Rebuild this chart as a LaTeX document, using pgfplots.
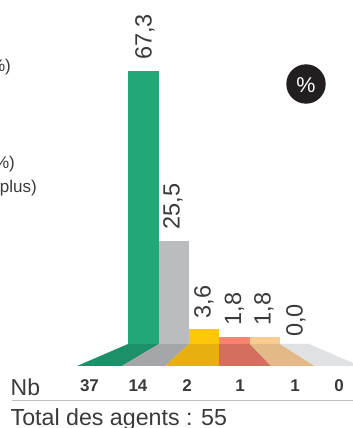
\documentclass[border=0pt]{standalone}
\usepackage{pgfplots}
\pgfplotsset{compat=1.18}
\usepackage{fontspec}
\setmainfont{Liberation Sans}
\definecolor{txt}{HTML}{3A3A3C}
\definecolor{cA}{HTML}{22A878}\definecolor{dA}{HTML}{1B9069}
\definecolor{cB}{HTML}{BBBCBF}\definecolor{dB}{HTML}{A5A6A9}
\definecolor{cC}{HTML}{FFC70A}\definecolor{dC}{HTML}{E8B00F}
\definecolor{cD}{HTML}{F98370}\definecolor{dD}{HTML}{D46F5F}
\definecolor{cE}{HTML}{FCCB92}\definecolor{dE}{HTML}{E3BA87}
\definecolor{dF}{HTML}{E0E1E3}
\definecolor{badge}{HTML}{231F20}
\pgfplotsset{
  valuebar/.style={
    ybar,bar shift=0pt,bar width=30.5bp,fill=#1,draw=none,
    nodes near coords,
    nodes near coords style={
      /pgf/number format/.cd,assume math mode=true,use comma,fixed,fixed zerofill,precision=1,
      /tikz/.cd,font=\fontsize{23.5bp}{23.5bp}\selectfont,text=txt,
      rotate=90,anchor=west,inner sep=0pt,xshift=11bp},
  },
  floor/.style={fill=#1,draw=none,mark=none},
}
\newcommand{\pxnode}[3]{\node[inner sep=0pt,#1] at (#2bp,{(428-#3)*1bp}) }
\begin{document}
\begin{tikzpicture}
\path[use as bounding box,clip] (0,0) rectangle (353bp,428bp);
\begin{axis}[
  at={(0,0)},anchor=south west,
  scale only axis,width=353bp,height=428bp,
  xmin=0,xmax=353,ymin=-20.71,ymax=84.81,
  axis lines=none,clip=false,
]
% floor panels under each bar
\addplot[floor=dA] coordinates {(77,-5.42)(122,-5.42)(159,0)(128,0)} -- cycle;
\addplot[floor=dB] coordinates {(122,-5.42)(165,-5.42)(189,0)(159,0)} -- cycle;
\addplot[floor=dC] coordinates {(165,-5.42)(219,-5.42)(219,0)(189,0)} -- cycle;
\addplot[floor=dD] coordinates {(219,-5.42)(271,-5.42)(250,0)(219,0)} -- cycle;
\addplot[floor=dE] coordinates {(271,-5.42)(315,-5.42)(280,0)(250,0)} -- cycle;
\addplot[floor=dF] coordinates {(315,-5.42)(360,-5.42)(309,0)(280,0)} -- cycle;
% share of agents in each class, in percent
\addplot[valuebar=cA,nodes near coords style={yshift=-1.5bp}] coordinates {(143.5,67.3)};
\addplot[valuebar=cB,nodes near coords style={yshift=1bp}] coordinates {(174,25.5)};
\addplot[valuebar=cC] coordinates {(204,3.6)};
\addplot[valuebar=cD] coordinates {(234.5,1.8)};
\addplot[valuebar=cE,nodes near coords style={yshift=1bp}] coordinates {(265,1.8)};
\addplot[valuebar=dF,nodes near coords style={xshift=-4bp,yshift=-1bp}] coordinates {(295,0.0)};
\end{axis}
% unit badge
\fill[badge] (306bp,{(428-84)*1bp}) circle (19.7bp);
\pxnode{text=white,font=\fontsize{21.5bp}{21.5bp}\selectfont}{306}{85}{\%};
% row label, counts and total
\pxnode{anchor=base west,text=txt,font=\fontsize{23bp}{23bp}\selectfont}{10.5}{395}{Nb};
\foreach \x/\n in {89.5/37,138/14,187/2,240/1,295/1,339/0}
  \pxnode{anchor=base,text=txt,font=\fontsize{17bp}{17bp}\selectfont\bfseries}{\x}{391}{\n};
\draw[color=black!25,line width=1.2bp] (12bp,{(428-400.7)*1bp}) -- (353bp,{(428-400.7)*1bp});
\pxnode{anchor=base west,text=txt,font=\fontsize{23.2bp}{23.2bp}\selectfont}{10.5}{425}{Total des agents : 55};
% legend entries running off the left edge
\pxnode{anchor=base east,text=txt,font=\fontsize{17bp}{17bp}\selectfont}{11}{71.5}{\%)};
\pxnode{anchor=base east,text=txt,font=\fontsize{17bp}{17bp}\selectfont}{15}{168}{\%)};
\pxnode{anchor=base east,text=txt,font=\fontsize{17bp}{17bp}\selectfont}{37}{192}{plus)};
\end{tikzpicture}
\end{document}
